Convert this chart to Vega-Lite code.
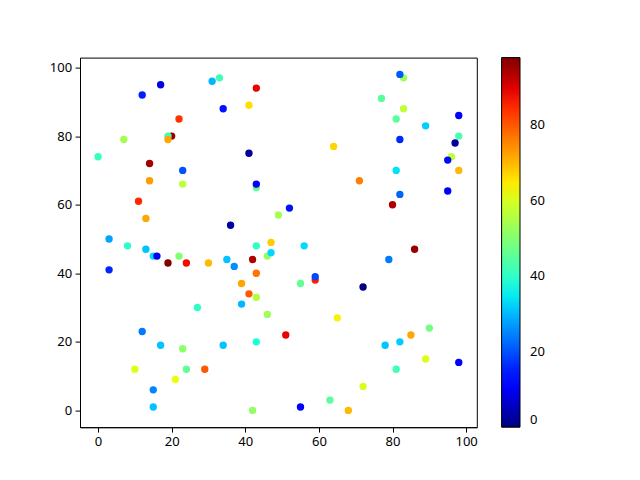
{
  "$schema": "https://vega.github.io/schema/vega-lite/v6.json",
  "width": 396.8,
  "height": 369.6,
  "autosize": {"type": "none"},
  "padding": {"left": 80, "top": 57.6, "right": 163.2, "bottom": 52.8},
  "background": "white",
  "data": {
    "values": [
      {"x": 0, "y": 74, "c": 41}, {"x": 7, "y": 79, "c": 54}, {"x": 12, "y": 92, "c": 15}, {"x": 17, "y": 95, "c": 9},
      {"x": 22, "y": 85, "c": 84}, {"x": 20, "y": 80, "c": 96}, {"x": 19, "y": 80, "c": 42}, {"x": 19, "y": 79, "c": 72},
      {"x": 14, "y": 72, "c": 95}, {"x": 14, "y": 67, "c": 73}, {"x": 23, "y": 70, "c": 20}, {"x": 23, "y": 66, "c": 57},
      {"x": 11, "y": 61, "c": 85}, {"x": 13, "y": 56, "c": 72}, {"x": 33, "y": 97, "c": 42}, {"x": 31, "y": 96, "c": 30},
      {"x": 43, "y": 94, "c": 89}, {"x": 41, "y": 89, "c": 66}, {"x": 34, "y": 88, "c": 14}, {"x": 41, "y": 75, "c": 2},
      {"x": 43, "y": 65, "c": 47}, {"x": 43, "y": 66, "c": 12}, {"x": 49, "y": 57, "c": 54}, {"x": 36, "y": 54, "c": 3},
      {"x": 3, "y": 50, "c": 28}, {"x": 8, "y": 48, "c": 40}, {"x": 43, "y": 48, "c": 40}, {"x": 47, "y": 49, "c": 68},
      {"x": 83, "y": 97, "c": 53}, {"x": 82, "y": 98, "c": 21}, {"x": 77, "y": 91, "c": 45}, {"x": 83, "y": 88, "c": 57},
      {"x": 81, "y": 85, "c": 45}, {"x": 89, "y": 83, "c": 32}, {"x": 98, "y": 86, "c": 12}, {"x": 98, "y": 80, "c": 43},
      {"x": 97, "y": 78, "c": 3}, {"x": 96, "y": 74, "c": 57}, {"x": 95, "y": 73, "c": 13}, {"x": 98, "y": 70, "c": 70},
      {"x": 82, "y": 79, "c": 16}, {"x": 64, "y": 77, "c": 67}, {"x": 81, "y": 70, "c": 34}, {"x": 71, "y": 67, "c": 76},
      {"x": 82, "y": 63, "c": 22}, {"x": 95, "y": 64, "c": 12}, {"x": 80, "y": 60, "c": 94}, {"x": 52, "y": 59, "c": 14},
      {"x": 13, "y": 47, "c": 31}, {"x": 15, "y": 45, "c": 33}, {"x": 16, "y": 45, "c": 9}, {"x": 19, "y": 43, "c": 98},
      {"x": 22, "y": 45, "c": 50}, {"x": 24, "y": 43, "c": 88}, {"x": 30, "y": 43, "c": 70}, {"x": 35, "y": 44, "c": 31},
      {"x": 37, "y": 42, "c": 26}, {"x": 42, "y": 44, "c": 94}, {"x": 46, "y": 45, "c": 52}, {"x": 47, "y": 46, "c": 33},
      {"x": 43, "y": 40, "c": 77}, {"x": 39, "y": 37, "c": 72}, {"x": 41, "y": 34, "c": 80}, {"x": 43, "y": 33, "c": 56},
      {"x": 39, "y": 31, "c": 30}, {"x": 46, "y": 28, "c": 53}, {"x": 27, "y": 30, "c": 40}, {"x": 3, "y": 41, "c": 16},
      {"x": 12, "y": 23, "c": 24}, {"x": 17, "y": 19, "c": 31}, {"x": 23, "y": 18, "c": 51}, {"x": 34, "y": 19, "c": 31},
      {"x": 43, "y": 20, "c": 38}, {"x": 10, "y": 12, "c": 61}, {"x": 24, "y": 12, "c": 46}, {"x": 29, "y": 12, "c": 80},
      {"x": 21, "y": 9, "c": 62}, {"x": 15, "y": 6, "c": 25}, {"x": 15, "y": 1, "c": 31}, {"x": 42, "y": 0, "c": 52},
      {"x": 56, "y": 48, "c": 33}, {"x": 55, "y": 37, "c": 46}, {"x": 59, "y": 38, "c": 86}, {"x": 59, "y": 39, "c": 19},
      {"x": 72, "y": 36, "c": 0}, {"x": 79, "y": 44, "c": 24}, {"x": 86, "y": 47, "c": 96}, {"x": 65, "y": 27, "c": 64},
      {"x": 51, "y": 22, "c": 89}, {"x": 78, "y": 19, "c": 31}, {"x": 82, "y": 20, "c": 32}, {"x": 85, "y": 22, "c": 72},
      {"x": 90, "y": 24, "c": 48}, {"x": 89, "y": 15, "c": 61}, {"x": 98, "y": 14, "c": 12}, {"x": 81, "y": 12, "c": 42},
      {"x": 72, "y": 7, "c": 60}, {"x": 63, "y": 3, "c": 45}, {"x": 55, "y": 1, "c": 12}, {"x": 68, "y": 0, "c": 70}
    ]
  },
  "mark": {"type": "circle", "opacity": 1, "size": 54.5},
  "encoding": {
    "x": {
      "field": "x", "type": "quantitative",
      "scale": {"domain": [-4.9, 102.9], "nice": false, "zero": false},
      "axis": {"title": null, "values": [0, 20, 40, 60, 80, 100], "grid": false}
    },
    "y": {
      "field": "y", "type": "quantitative",
      "scale": {"domain": [-4.9, 102.9], "nice": false, "zero": false},
      "axis": {"title": null, "values": [0, 20, 40, 60, 80, 100], "grid": false}
    },
    "color": {
      "field": "c", "type": "quantitative",
      "scale": {
        "type": "linear",
        "domain": [0, 10.78, 12.25, 33.32, 34.3, 36.75, 62.72, 63.7, 64.68, 87.22, 89.18, 98],
        "range": ["#000080", "#0000ff", "#0000ff", "#00dbff", "#00e5f7", "#14ffe2", "#eeff08", "#f7f500", "#ffec00", "#ff1300", "#e80000", "#800000"],
        "interpolate": "rgb"
      },
      "legend": {
        "title": null,
        "orient": "none",
        "legendX": 421.6,
        "legendY": 0,
        "direction": "vertical",
        "gradientLength": 369.6,
        "gradientThickness": 18.4,
        "gradientStrokeColor": "black",
        "gradientStrokeWidth": 1,
        "padding": 0,
        "values": [0, 20, 40, 60, 80],
        "labelOverlap": false,
        "labelOffset": 10,
        "labelFont": "Noto Sans",
        "labelFontSize": 13,
        "labelColor": "black"
      }
    }
  },
  "config": {
    "view": {"stroke": "black", "strokeWidth": 1},
    "axis": {
      "domainColor": "black",
      "tickColor": "black",
      "tickSize": 4.9,
      "labelPadding": 3.5,
      "labelFont": "Noto Sans",
      "labelFontSize": 13,
      "labelColor": "black"
    }
  }
}
